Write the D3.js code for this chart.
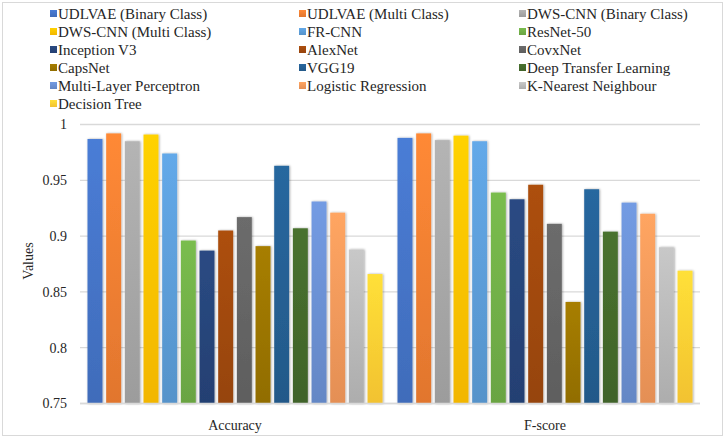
<!DOCTYPE html>
<html>
<head>
<meta charset="utf-8">
<script src="https://cdn.jsdelivr.net/npm/d3@7"></script>
<style>
  body { margin: 0; background: #fff; }
  svg text { font-family: "Liberation Serif", "Times New Roman", serif; fill: #262626; }
</style>
</head>
<body>
<svg id="chart" width="725" height="440"></svg>
<script>
// categories on the x axis
const categories = ['Accuracy', 'F-score']

// one series per model
const seriesNames = [
    'UDLVAE (Binary Class)', 'UDLVAE (Multi Class)', 'DWS-CNN (Binary Class)',
    'DWS-CNN (Multi Class)', 'FR-CNN', 'ResNet-50',
    'Inception V3', 'AlexNet', 'CovxNet',
    'CapsNet', 'VGG19', 'Deep Transfer Learning',
    'Multi-Layer Perceptron', 'Logistic Regression', 'K-Nearest Neighbour',
    'Decision Tree'
]

// values, same order as seriesNames
const accuracyValues = [0.987, 0.992, 0.985, 0.991, 0.974, 0.896, 0.887, 0.905,
                        0.917, 0.891, 0.963, 0.907, 0.931, 0.921, 0.888, 0.866]
const fscoreValues   = [0.988, 0.992, 0.986, 0.990, 0.985, 0.939, 0.933, 0.946,
                        0.911, 0.841, 0.942, 0.904, 0.930, 0.920, 0.890, 0.869]

const yTicks = [0.75, 0.8, 0.85, 0.9, 0.95, 1]

// excel office theme colours
const colors = ['#4472C4', '#ED7D31', '#A5A5A5', '#FFC000', '#5B9BD5', '#70AD47',
                '#264478', '#9E480E', '#636363', '#997300', '#255E91', '#43682B',
                '#698ED0', '#F1975A', '#B7B7B7', '#FFCD33']

const valuesByCat = { 'Accuracy': accuracyValues, 'F-score': fscoreValues }

const svg = d3.select('#chart')

// outer frame
svg.append('rect')
    .attr('x', 2.5).attr('y', 2.5)
    .attr('width', 720).attr('height', 433)
    .attr('fill', 'none')
    .attr('stroke', '#d9d9d9')

const defs = svg.append('defs')

// gradients, lighter at the top
colors.forEach((c, i) => {
    const g = defs.append('linearGradient')
        .attr('id', 'grad' + i)
        .attr('x1', 0).attr('y1', 0).attr('x2', 0).attr('y2', 1)
    g.append('stop').attr('offset', '0%').attr('stop-color', d3.color(c).brighter(0.25))
    g.append('stop').attr('offset', '100%').attr('stop-color', d3.color(c).darker(0.15))
})

const shadow = defs.append('filter').attr('id', 'shadow')
    .attr('x', '-30%').attr('y', '-5%').attr('width', '160%').attr('height', '110%')
shadow.append('feDropShadow')
    .attr('dx', 0.8).attr('dy', 0)
    .attr('stdDeviation', 1.2)
    .attr('flood-color', '#000')
    .attr('flood-opacity', 0.35)

// scales
const x0 = d3.scaleBand()
    .domain(categories)
    .range([80, 700])

const x1 = d3.scaleBand()
    .domain(seriesNames)
    .range([7.5, 302.5])
    .paddingInner(0.2)

const y = d3.scaleLinear()
    .domain([0.75, 1])
    .range([403.5, 124.5])

// gridlines
svg.append('g')
    .selectAll('line')
    .data(yTicks)
    .join('line')
    .attr('x1', 80).attr('x2', 700)
    .attr('y1', d => y(d)).attr('y2', d => y(d))
    .attr('stroke', '#d9d9d9')
    .attr('stroke-width', 1.3)

// y axis labels
const yAxis = svg.append('g')
    .attr('transform', 'translate(80,0)')
    .call(d3.axisLeft(y).tickValues(yTicks).tickSize(0).tickPadding(13)
        .tickFormat(d => String(+d.toFixed(2))))
yAxis.select('.domain').remove()
yAxis.selectAll('text')
    .style('font-family', '"Liberation Serif", serif')
    .style('font-size', '14px')
    .attr('fill', '#262626')

// bars
const groups = svg.append('g')
    .selectAll('g')
    .data(categories)
    .join('g')
    .attr('transform', d => `translate(${x0(d)},0)`)

groups.selectAll('rect')
    .data(cat => seriesNames.map((s, i) => ({ s: s, i: i, v: valuesByCat[cat][i] })))
    .join('rect')
    .attr('x', d => x1(d.s))
    .attr('width', x1.bandwidth())
    .attr('y', d => y(d.v))
    .attr('height', d => y(0.75) - y(d.v))
    .attr('fill', d => `url(#grad${d.i})`)
    .attr('filter', 'url(#shadow)')

// baseline drawn on top
svg.append('line')
    .attr('x1', 80).attr('x2', 700)
    .attr('y1', y(0.75)).attr('y2', y(0.75))
    .attr('stroke', '#d9d9d9')
    .attr('stroke-width', 1.3)

// category labels
const xAxis = svg.append('g')
    .attr('transform', `translate(0,${y(0.75)})`)
    .call(d3.axisBottom(x0).tickSize(0).tickPadding(17))
xAxis.select('.domain').remove()
xAxis.selectAll('text')
    .style('font-family', '"Liberation Serif", serif')
    .style('font-size', '14px')
    .attr('fill', '#262626')

// y title
svg.append('text')
    .attr('transform', 'translate(33,261) rotate(-90)')
    .attr('text-anchor', 'middle')
    .style('font-size', '14px')
    .text('Values')

// legend, 3 columns
const legendX = [50, 299, 519]
const legend = svg.append('g')
    .selectAll('g')
    .data(seriesNames)
    .join('g')
    .attr('transform', (d, i) => `translate(${legendX[i % 3]},${14 + Math.floor(i / 3) * 18})`)

legend.append('rect')
    .attr('x', 0).attr('y', -4)
    .attr('width', 7).attr('height', 7)
    .attr('fill', (d, i) => `url(#grad${i})`)

legend.append('text')
    .attr('x', 8)
    .attr('dy', '0.35em')
    .style('font-size', '15px')
    .text(d => d)
</script>
</body>
</html>
